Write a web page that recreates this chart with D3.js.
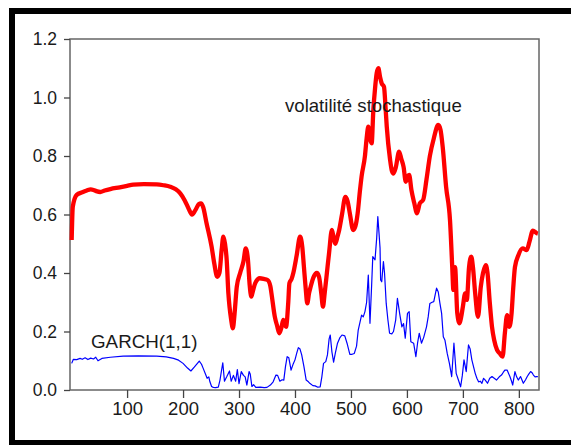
<!DOCTYPE html>
<html>
<head>
<meta charset="utf-8">
<script src="https://cdn.jsdelivr.net/npm/d3@7"></script>
<style>
  body { margin: 0; background: #fff; }
  text { font-family: "Liberation Sans", Arial, sans-serif; fill: #1a1a1a; }
</style>
</head>
<body>
<div id="chart"></div>
<script>
// volatilité stochastique (red, thick)
const volObs = [1,3,10,20,28,35,40,45,52,60,70,87,100,111,130,153,165,177,187,195,203,210,216,222,228,232,236,242,251,256,261,265,269,272,275,278,281,283,286,289,292,296,302,308,312,316,319,322,325,329,337,344,351,356,358,364,368,372,376,379,382,384,388,390,394,397,403,409,413,416,419,422,425,428,433,439,443,447,450,453,457,461,466,469,472,476,479,484,490,494,498,504,508,512,516,519,525,528,531,534,537,540,543,546,549,552,555,559,562,564,570,573,576,580,586,590,594,598,601,604,608,613,618,623,629,635,641,648,656,660,664,670,677,681,683,686,690,694,697,700,704,707,711,715,718,722,727,732,736,741,744,748,752,756,761,766,771,775,779,783,787,790,793,799,807,814,819,825,832,834]
const volValues = [0.513,0.627,0.667,0.676,0.682,0.686,0.684,0.68,0.677,0.682,0.687,0.693,0.698,0.702,0.704,0.703,0.7,0.695,0.686,0.672,0.648,0.62,0.6,0.615,0.635,0.638,0.625,0.57,0.49,0.43,0.387,0.4,0.48,0.524,0.5,0.444,0.33,0.285,0.24,0.211,0.26,0.353,0.4,0.44,0.484,0.444,0.36,0.319,0.34,0.365,0.382,0.38,0.376,0.355,0.33,0.25,0.22,0.194,0.215,0.24,0.225,0.216,0.3,0.365,0.38,0.4,0.46,0.524,0.49,0.42,0.35,0.296,0.33,0.353,0.385,0.4,0.387,0.33,0.285,0.33,0.4,0.47,0.547,0.52,0.5,0.525,0.547,0.6,0.66,0.645,0.604,0.547,0.56,0.604,0.68,0.73,0.8,0.86,0.9,0.86,0.843,0.957,1.03,1.083,1.1,1.07,1.048,1.037,0.96,0.9,0.786,0.75,0.74,0.76,0.815,0.79,0.763,0.712,0.73,0.735,0.684,0.64,0.604,0.638,0.65,0.72,0.8,0.86,0.906,0.89,0.83,0.695,0.58,0.42,0.342,0.42,0.262,0.228,0.25,0.285,0.33,0.308,0.42,0.456,0.42,0.33,0.25,0.353,0.4,0.427,0.4,0.3,0.216,0.17,0.137,0.125,0.114,0.194,0.256,0.216,0.262,0.35,0.42,0.46,0.484,0.478,0.507,0.545,0.536,0.535]

// GARCH(1,1) (blue, thin)
const garchObs = [1,4,10,16,20,25,30,35,40,44,48,55,70,93,120,153,170,183,192,200,208,214,220,226,229,233,236,240,243,246,248,251,254,258,263,266,269,271,274,278,283,286,290,294,297,300,304,308,311,314,318,320,323,326,330,338,345,350,356,361,366,369,373,377,380,383,386,389,393,397,400,403,406,409,412,416,420,424,427,432,436,440,445,448,451,455,458,461,463,466,469,472,476,480,484,489,493,498,502,506,510,513,516,519,522,525,528,531,534,537,539,543,546,548,550,552,553,555,558,560,563,566,569,573,576,580,583,587,591,594,597,601,604,607,612,616,619,622,626,630,635,638,641,645,648,651,653,656,659,662,665,668,672,676,680,684,688,692,696,699,702,706,708,710,713,716,719,722,725,728,731,734,737,740,744,748,752,756,760,765,769,772,775,779,784,787,789,793,796,799,803,808,812,815,818,821,824,826,829,832,834]
const garchValues = [0.091,0.105,0.104,0.108,0.105,0.11,0.104,0.109,0.106,0.112,0.1,0.108,0.112,0.116,0.117,0.116,0.113,0.108,0.102,0.091,0.075,0.065,0.078,0.092,0.099,0.088,0.074,0.055,0.04,0.045,0.028,0.012,0.009,0.008,0.01,0.034,0.07,0.093,0.03,0.045,0.065,0.03,0.05,0.03,0.07,0.022,0.063,0.05,0.045,0.017,0.063,0.055,0.012,0.018,0.009,0.01,0.008,0.009,0.017,0.028,0.051,0.05,0.03,0.035,0.034,0.08,0.114,0.11,0.068,0.09,0.103,0.125,0.145,0.14,0.12,0.08,0.034,0.028,0.022,0.015,0.014,0.01,0.011,0.045,0.091,0.097,0.12,0.175,0.188,0.13,0.095,0.125,0.16,0.178,0.188,0.185,0.16,0.122,0.122,0.125,0.15,0.205,0.23,0.256,0.25,0.268,0.3,0.393,0.228,0.36,0.456,0.445,0.52,0.593,0.54,0.485,0.376,0.37,0.439,0.4,0.296,0.24,0.194,0.192,0.2,0.24,0.313,0.262,0.216,0.227,0.177,0.262,0.268,0.165,0.16,0.114,0.16,0.194,0.16,0.18,0.216,0.25,0.296,0.3,0.302,0.33,0.348,0.335,0.296,0.262,0.182,0.17,0.125,0.09,0.046,0.16,0.057,0.034,0.011,0.05,0.103,0.063,0.11,0.154,0.14,0.103,0.08,0.057,0.04,0.028,0.03,0.023,0.04,0.034,0.023,0.04,0.046,0.04,0.034,0.045,0.051,0.06,0.068,0.068,0.046,0.03,0.017,0.063,0.045,0.034,0.046,0.023,0.035,0.046,0.055,0.063,0.058,0.051,0.045,0.046,0.046]

const xTicks = [100,200,300,400,500,600,700,800]
const yTicks = [0,0.2,0.4,0.6,0.8,1.0,1.2]

const width = 571, height = 445
const padL = 70, padR = 539, padT = 39, padB = 390

const svg = d3.select('#chart')
  .append('svg')
  .attr('width', width)
  .attr('height', height)

// outer black frame (right side runs off the picture)
svg.append('rect')
  .attr('x', 12).attr('y', 11)
  .attr('width', 620).attr('height', 432)
  .attr('fill', 'none')
  .attr('stroke', '#000')
  .attr('stroke-width', 6)

const xScale = d3.scaleLinear().domain([-2, 836]).range([padL, padR])
const yScale = d3.scaleLinear().domain([0, 1.2]).range([padB, padT])

// plot box
svg.append('rect')
  .attr('x', padL).attr('y', padT)
  .attr('width', padR - padL).attr('height', padB - padT)
  .attr('fill', 'none')
  .attr('stroke', '#666')
  .attr('stroke-width', 1.5)

const xAxis = d3.axisBottom(xScale).tickValues(xTicks).tickSize(8).tickPadding(4).tickFormat(d3.format('d'))
svg.append('g')
  .attr('transform', `translate(0,${padB})`)
  .call(xAxis)
  .call(g => g.select('.domain').remove())
  .call(g => g.selectAll('line').attr('stroke', '#444').attr('stroke-width', 1.3))
  .call(g => g.selectAll('text').style('font-size', '18.5px').attr('fill', '#1a1a1a'))

const yAxis = d3.axisLeft(yScale).tickValues(yTicks).tickSize(6).tickPadding(7).tickFormat(d3.format('.1f'))
svg.append('g')
  .attr('transform', `translate(${padL},0)`)
  .call(yAxis)
  .call(g => g.select('.domain').remove())
  .call(g => g.selectAll('line').attr('stroke', '#444').attr('stroke-width', 1.3))
  .call(g => g.selectAll('text').style('font-size', '17.5px').attr('fill', '#1a1a1a'))

const volData = volObs.map((d, i) => [d, volValues[i]])
const garchData = garchObs.map((d, i) => [d, garchValues[i]])

svg.append('path')
  .datum(garchData)
  .attr('fill', 'none')
  .attr('stroke', '#0000ff')
  .attr('stroke-width', 1.2)
  .attr('stroke-linejoin', 'round')
  .attr('d', d3.line().x(d => xScale(d[0])).y(d => yScale(d[1])))

svg.append('path')
  .datum(volData)
  .attr('fill', 'none')
  .attr('stroke', '#ff0000')
  .attr('stroke-width', 4.3)
  .attr('stroke-linejoin', 'round')
  .attr('d', d3.line().curve(d3.curveMonotoneX).x(d => xScale(d[0])).y(d => yScale(d[1])))

svg.append('text')
  .text('volatilité stochastique')
  .attr('x', 285)
  .attr('y', 112)
  .style('font-size', '18.6px')

svg.append('text')
  .text('GARCH(1,1)')
  .attr('x', 91)
  .attr('y', 348)
  .style('font-size', '18.8px')
</script>
</body>
</html>
